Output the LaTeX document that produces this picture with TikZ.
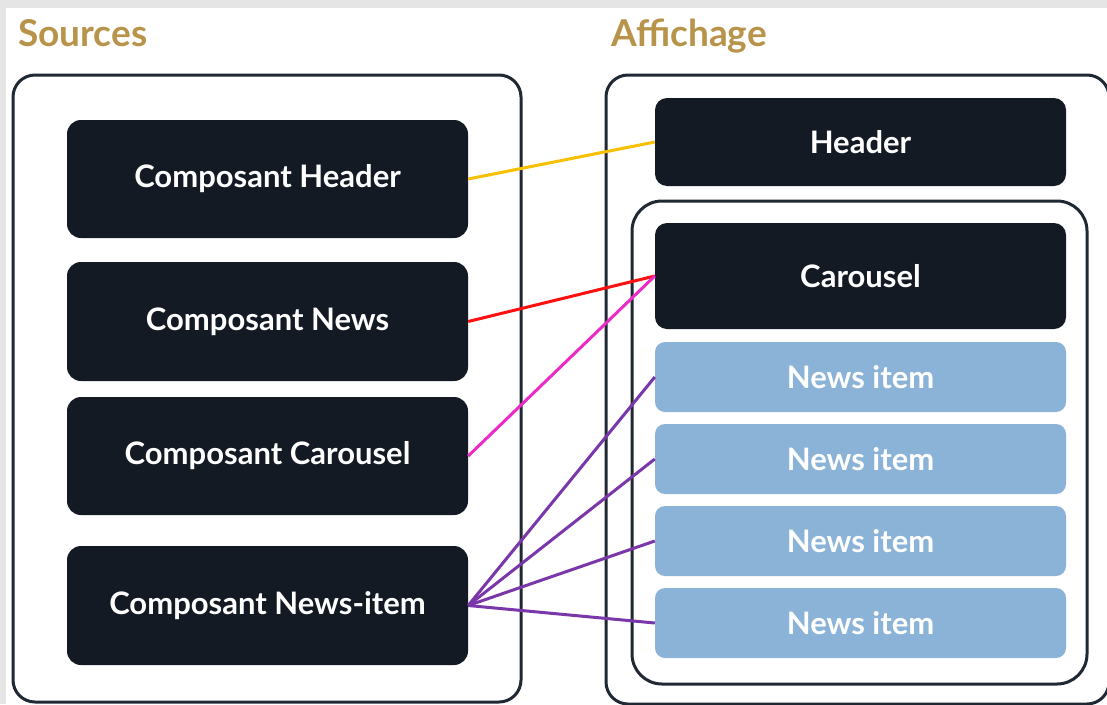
\documentclass[tikz,border=0pt]{standalone}
\usepackage{fontspec}
\setmainfont{Lato}
\definecolor{gold}{HTML}{B8934A}
\definecolor{darkbox}{HTML}{141A23}
\definecolor{frame}{HTML}{1F2833}
\definecolor{lightblue}{HTML}{8AB3D7}
\definecolor{cyellow}{HTML}{F7C000}
\definecolor{cred}{HTML}{FF1010}
\definecolor{cmagenta}{HTML}{EC2BC6}
\definecolor{cpurple}{HTML}{7A37AA}
\definecolor{bggray}{HTML}{E5E5E5}
\tikzset{
  src/.style={fill=darkbox, rounded corners=14pt, text=white, font=\fontsize{31}{34}\selectfont\bfseries, inner sep=0pt},
  disp/.style={fill=darkbox, rounded corners=12pt, text=white, font=\fontsize{31}{34}\selectfont\bfseries, inner sep=0pt},
  item/.style={fill=lightblue, rounded corners=10pt, text=white, font=\fontsize{31}{34}\selectfont\bfseries, inner sep=0pt},
  container/.style={draw=frame, line width=3pt, rounded corners=22pt},
  title/.style={text=gold, font=\fontsize{37}{40}\selectfont\bfseries, anchor=base west, inner sep=0pt},
  link/.style={line width=3pt}
}
\begin{document}
\begin{tikzpicture}[x=1pt,y=-1pt]
\useasboundingbox (0,0) rectangle (1107,704);
\clip (0,0) rectangle (1107,704);
\fill[bggray] (0,0) rectangle (1107,704);
\fill[white] (6,8) rectangle (1107,704);
\node[title] (tsrc) at (18,46) {Sources};
\node[title] (taff) at (611,46) {Affichage};
\draw[container] (13,75) rectangle (521,702);
\draw[container] (606,75) rectangle (1109,704);
\draw[container, rounded corners=30pt] (632,201) rectangle (1087,684);
% source nodes
\node[src, minimum width=401pt, minimum height=118pt] (sh) at (267.5,179) {Composant Header};
\node[src, minimum width=401pt, minimum height=119pt] (sn) at (267.5,321.5) {Composant News};
\node[src, minimum width=401pt, minimum height=118pt] (sc) at (267.5,456) {Composant Carousel};
\node[src, minimum width=401pt, minimum height=119pt] (sni) at (267.5,605.5) {Composant News-item};
% display nodes
\node[disp, minimum width=411pt, minimum height=88pt] (dh) at (860.5,142) {Header};
\node[disp, minimum width=411pt, minimum height=106pt] (dc) at (860.5,276) {Carousel};
\node[item, minimum width=411pt, minimum height=70pt] (n1) at (860.5,377) {News item};
\node[item, minimum width=411pt, minimum height=70pt] (n2) at (860.5,459) {News item};
\node[item, minimum width=411pt, minimum height=70pt] (n3) at (860.5,541) {News item};
\node[item, minimum width=411pt, minimum height=70pt] (n4) at (860.5,623) {News item};
% connectors
\draw[link, cyellow] (sh.east) -- (dh.west);
\draw[link, cred] (sn.east) -- (dc.west);
\draw[link, cmagenta] (sc.east) -- (dc.west);
\draw[link, cpurple] (sni.east) -- (n1.west);
\draw[link, cpurple] (sni.east) -- (n2.west);
\draw[link, cpurple] (sni.east) -- (n3.west);
\draw[link, cpurple] (sni.east) -- (n4.west);
\end{tikzpicture}
\end{document}
